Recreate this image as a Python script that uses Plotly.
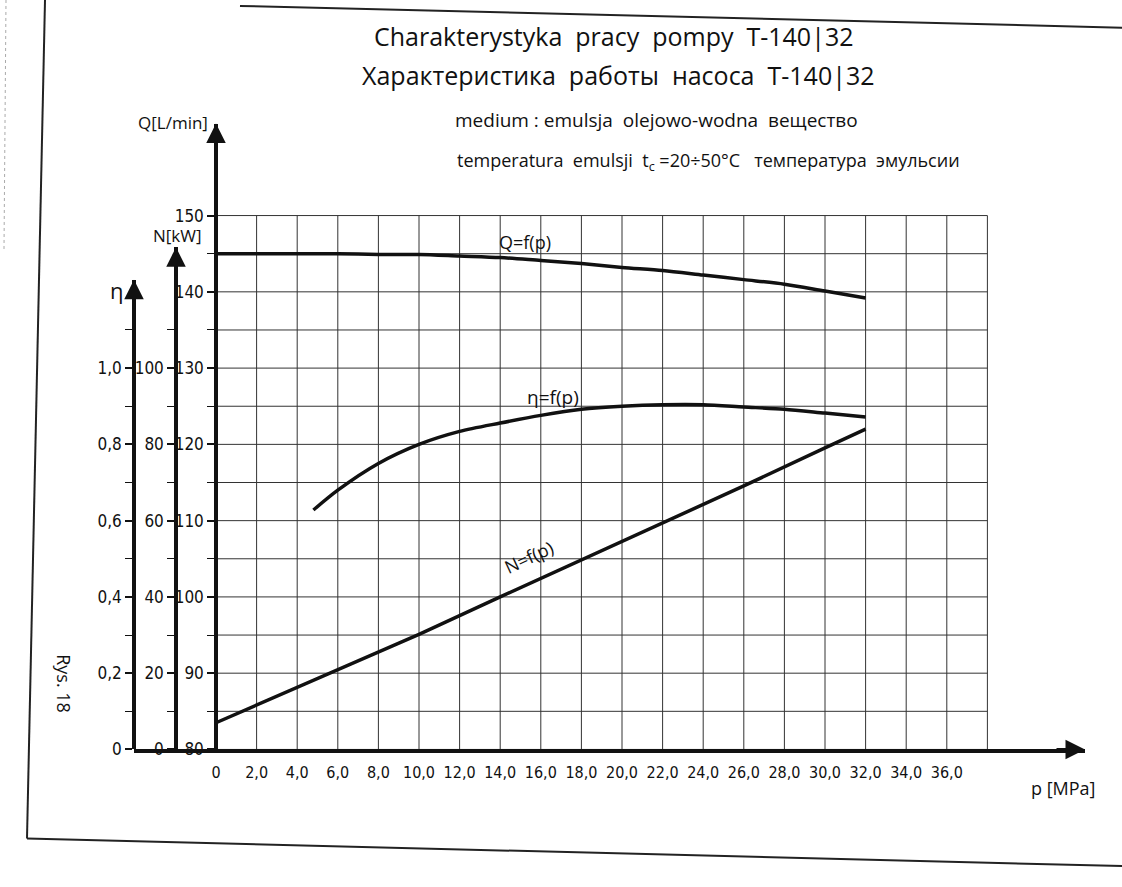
import plotly.graph_objects as go

# ---------------- data ----------------
p_Q = [0, 2, 4, 6, 8, 10, 12, 14, 16, 18, 20, 22, 24, 26, 28, 30, 32]
Q_lmin = [145.0, 145.0, 145.0, 145.0, 144.9, 144.9, 144.7, 144.5, 144.1, 143.7,
          143.2, 142.8, 142.2, 141.6, 141.0, 140.1, 139.2]

p_eta = [4.8, 6, 8, 10, 12, 14, 16, 18, 20, 22, 24, 26, 28, 30, 32]
eta = [0.628, 0.68, 0.75, 0.80, 0.834, 0.856, 0.876, 0.892, 0.900, 0.904,
       0.904, 0.898, 0.892, 0.882, 0.872]

p_N = [0, 6, 10, 14, 18, 22, 26, 30, 32]
N_kw = [7.0, 20.8, 30.2, 40.0, 49.7, 59.2, 69.1, 79.1, 84.0]

p_ticks = [0, 2, 4, 6, 8, 10, 12, 14, 16, 18, 20, 22, 24, 26, 28, 30, 32, 34, 36]
p_labels = ["0", "2,0", "4,0", "6,0", "8,0", "10,0", "12,0", "14,0", "16,0", "18,0",
            "20,0", "22,0", "24,0", "26,0", "28,0", "30,0", "32,0", "34,0", "36,0"]
Q_ticks = [80, 90, 100, 110, 120, 130, 140, 150]
Q_minor = [85, 95, 105, 115, 125, 135, 145]
N_ticks = [0, 20, 40, 60, 80, 100]
N_minor = [10, 30, 50, 70, 90, 110]
eta_ticks = [0, 0.2, 0.4, 0.6, 0.8, 1.0]
eta_labels = ["0", "0,2", "0,4", "0,6", "0,8", "1,0"]
eta_minor = [0.1, 0.3, 0.5, 0.7, 0.9, 1.1]

grid_p = [0, 2, 4, 6, 8, 10, 12, 14, 16, 18, 20, 22, 24, 26, 28, 30, 32, 34, 36, 38]
grid_Q = [80, 85, 90, 95, 100, 105, 110, 115, 120, 125, 130, 135, 140, 145, 150]

# ---------------- layout geometry (pixels) ----------------
W, H = 1122, 887
PX0 = 216.0      # pixel x of p = 0 (Q axis)
SX = 20.3        # px per MPa
PY80 = 758.0     # pixel y of Q = 80 (base line)
SY = 7.714       # px per L/min
X_LEFT, X_RIGHT = 134.0, 1085.0
Q_TOP_PX, N_TOP_PX, ETA_TOP_PX = 125.0, 250.0, 283.0
N_AX_PX, ETA_AX_PX = 176.0, 134.0


def fx(px):
    return px / W


def fy(py):
    return 1 - py / H


INK = "#111111"
NUM_FONT = dict(family="DejaVu Sans Condensed, Liberation Sans Narrow, Roboto, sans-serif",
                size=17, color=INK)
XNUM_FONT = dict(NUM_FONT, size=16)
HAND_FONT = "Open Sans, Lato, DejaVu Sans, sans-serif"

fig = go.Figure()

curve = dict(color=INK, width=3.5)
fig.add_trace(go.Scatter(x=p_Q, y=Q_lmin, mode="lines", line=dict(curve, shape="spline", smoothing=0.8),
                         xaxis="x", yaxis="y", hoverinfo="skip", showlegend=False))
fig.add_trace(go.Scatter(x=p_eta, y=eta, mode="lines", line=dict(curve, shape="spline", smoothing=0.8),
                         xaxis="x", yaxis="y3", hoverinfo="skip", showlegend=False))
fig.add_trace(go.Scatter(x=p_N, y=N_kw, mode="lines", line=curve,
                         xaxis="x", yaxis="y2", hoverinfo="skip", showlegend=False))

shapes = []
for p in grid_p:
    shapes.append(dict(type="line", xref="x", yref="y", x0=p, x1=p, y0=grid_Q[0], y1=grid_Q[-1],
                       line=dict(color="#333", width=1), layer="below"))
for q in grid_Q:
    shapes.append(dict(type="line", xref="x", yref="y", x0=grid_p[0], x1=grid_p[-1], y0=q, y1=q,
                       line=dict(color="#333", width=1), layer="below"))
# scanned page frame
frame = dict(color="#222", width=2)
shapes += [
    dict(type="line", xref="paper", yref="paper", x0=fx(240), y0=fy(6), x1=fx(1122), y1=fy(28), line=frame),
    dict(type="line", xref="paper", yref="paper", x0=fx(45), y0=fy(0), x1=fx(27), y1=fy(848), line=frame),
    dict(type="line", xref="paper", yref="paper", x0=fx(27), y0=fy(848), x1=fx(1122), y1=fy(876), line=frame),
    dict(type="line", xref="paper", yref="paper", x0=fx(6), y0=fy(0), x1=fx(4), y1=fy(252),
         line=dict(color="#aaa", width=1, dash="dot")),
]

axis_common = dict(showgrid=False, zeroline=False, showline=True, linecolor=INK, tickfont=NUM_FONT,
                   tickcolor=INK, fixedrange=True)

fig.update_layout(
    width=W, height=H, margin=dict(l=0, r=0, t=0, b=0),
    paper_bgcolor="white", plot_bgcolor="rgba(0,0,0,0)", showlegend=False,
    shapes=shapes,
    xaxis=dict(axis_common, domain=[fx(X_LEFT), fx(X_RIGHT)],
               range=[(X_LEFT - PX0) / SX, (X_RIGHT - PX0) / SX], tickfont=XNUM_FONT,
               anchor="y", linewidth=3.5, tickvals=p_ticks, ticktext=p_labels, ticks="",
               ticklabelstandoff=6),
    yaxis=dict(axis_common, domain=[fy(PY80), fy(Q_TOP_PX)], range=[80, 80 + (PY80 - Q_TOP_PX) / SY],
               anchor="free", position=fx(PX0), linewidth=3.5, tickvals=Q_ticks, ticks="outside",
               ticklen=7, tickwidth=1.5, minor=dict(tickvals=Q_minor, ticks="outside", ticklen=7, tickwidth=1.2,
                                                     tickcolor=INK)),
    yaxis2=dict(axis_common, domain=[fy(PY80), fy(N_TOP_PX)], range=[0, 2 * (PY80 - N_TOP_PX) / SY],
                anchor="free", position=fx(N_AX_PX), linewidth=3.5, tickvals=N_ticks, ticks="outside",
                ticklen=7, tickwidth=1.5, minor=dict(tickvals=N_minor, ticks="outside", ticklen=7, tickwidth=1.2,
                                                      tickcolor=INK)),
    yaxis3=dict(axis_common, domain=[fy(PY80), fy(ETA_TOP_PX)], range=[0, (PY80 - ETA_TOP_PX) / SY / 50],
                anchor="free", position=fx(ETA_AX_PX), linewidth=3.5, tickvals=eta_ticks, ticktext=eta_labels,
                ticks="outside", ticklen=7, tickwidth=1.5,
                minor=dict(tickvals=eta_minor, ticks="outside", ticklen=7, tickwidth=1.2, tickcolor=INK)),
)

ann = []


def arrow(x_px, y_px, ax, ay):
    ann.append(dict(x=fx(x_px), y=fy(y_px), xref="paper", yref="paper", text="", showarrow=True,
                    ax=ax, ay=ay, arrowhead=2, arrowsize=1.3, arrowwidth=3, arrowcolor=INK))


arrow(PX0, Q_TOP_PX, 0, 30)
arrow(N_AX_PX, N_TOP_PX, 0, 30)
arrow(ETA_AX_PX, ETA_TOP_PX, 0, 30)
arrow(X_RIGHT, PY80, -30, 0)


def text(x_px, y_px, s, size, angle=0, xanchor="center", yanchor="middle", family=HAND_FONT):
    ann.append(dict(x=fx(x_px), y=fy(y_px), xref="paper", yref="paper", text=s, showarrow=False,
                    xanchor=xanchor, yanchor=yanchor, textangle=angle,
                    font=dict(family=family, size=size, color=INK)))


text(613, 36, "Charakterystyka  pracy  pompy  T-140|32", 25)
text(619, 76, "Характеристика  работы  насоса  T-140|32", 25)
text(656, 121, "medium : emulsja  olejowo-wodna  вещество", 19)
text(708, 163, "temperatura  emulsji  t<sub>c</sub> =20÷50°C   температура  эмульсии", 18)
text(210, 124, "Q[L/min]", 17, xanchor="right")
text(204, 238, "N[kW]", 17, xanchor="right")
text(117, 293, "η", 22)
text(1063, 797, "p [MPa]", 18)
text(64, 692, "Rys. 18", 18, angle=90)

# curve labels in data coordinates
ann.append(dict(x=15.2, y=144.7, xref="x", yref="y", text="Q=f(p)", showarrow=False, xanchor="center",
                yanchor="bottom", font=dict(family=HAND_FONT, size=18, color=INK)))
ann.append(dict(x=16.6, y=0.885, xref="x", yref="y3", text="η=f(p)", showarrow=False, xanchor="center",
                yanchor="bottom", font=dict(family=HAND_FONT, size=19, color=INK)))
ann.append(dict(x=15.4, y=50.5, xref="x", yref="y2", text="N=f(p)", showarrow=False, xanchor="center",
                yanchor="middle", textangle=-25, font=dict(family=HAND_FONT, size=18, color=INK)))

fig.update_layout(annotations=ann)

fig.write_html("out.html", config={"displayModeBar": False},
               post_script="document.body.style.margin='0';")
